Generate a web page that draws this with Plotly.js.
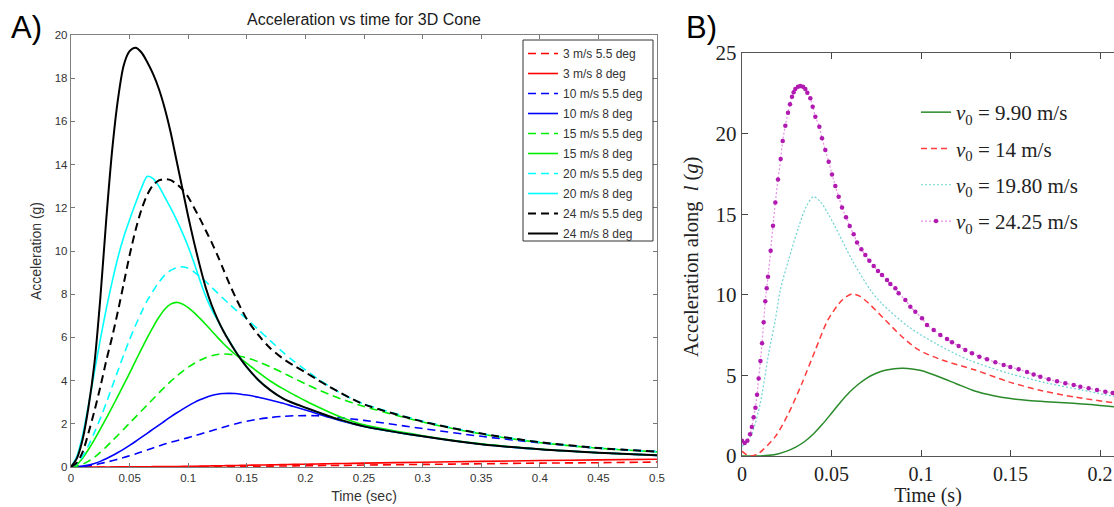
<!DOCTYPE html>
<html>
<head>
<meta charset="utf-8">
<script src="https://cdn.plot.ly/plotly-3.0.1.min.js"></script>
<style>html,body{margin:0;padding:0;background:#fff;}#chart{width:1114px;height:507px;}</style>
</head>
<body>
<div id="chart"></div>
<script>
// ---------- Panel A: Acceleration vs time for 3D Cone ----------
const tA = [0,0.005,0.01,0.015,0.02,0.025,0.03,0.035,0.04,0.045,0.05,0.055,0.06,0.065,0.07,0.075,0.08,0.085,0.09,0.095,0.1,0.105,0.11,0.115,0.12,0.125,0.13,0.135,0.14,0.145,0.15,0.16,0.17,0.18,0.19,0.2,0.21,0.22,0.23,0.24,0.25,0.3,0.35,0.4,0.45,0.5];
const a3_55  = [0,0,0,0,0,0,0,0,0,0, 0.003,0.004,0.005,0.006,0.007,0.008,0.009,0.01,0.011,0.012, 0.013,0.015,0.016,0.018,0.019,0.021,0.022,0.024,0.026,0.028, 0.03,0.035,0.04,0.045,0.05,0.06,0.065,0.07,0.075,0.08, 0.09,0.12,0.15,0.18,0.2,0.23];
const a3_8   = [0,0,0,0,0,0.001,0.002,0.003,0.004,0.006, 0.008,0.01,0.012,0.014,0.016,0.018,0.02,0.022,0.025,0.028, 0.03,0.035,0.04,0.045,0.05,0.055,0.06,0.065,0.07,0.075, 0.08,0.09,0.1,0.11,0.12,0.13,0.14,0.15,0.16,0.17, 0.18,0.22,0.26,0.3,0.33,0.36];
const a10_55 = [0,0.01,0.03,0.06,0.1,0.16,0.22,0.29,0.36,0.44, 0.52,0.6,0.7,0.79,0.88,0.97,1.06,1.14,1.22,1.29, 1.36,1.44,1.52,1.6,1.68,1.76,1.84,1.92,1.99,2.06, 2.12,2.22,2.29,2.34,2.37,2.38,2.37,2.33,2.28,2.22, 2.16,1.78,1.42,1.12,0.87,0.72];
const a10_8  = [0,0.01,0.04,0.09,0.16,0.26,0.38,0.52,0.67,0.83, 1.0,1.18,1.37,1.56,1.75,1.94,2.13,2.32,2.5,2.67, 2.83,2.98,3.11,3.22,3.31,3.37,3.4,3.41,3.4,3.37, 3.33,3.23,3.1,2.96,2.8,2.64,2.47,2.3,2.14,2.0, 1.88,1.42,1.05,0.82,0.66,0.54];
const a15_55 = [0,0.04,0.13,0.27,0.45,0.68,0.93,1.2,1.47,1.75, 2.03,2.31,2.59,2.87,3.15,3.43,3.7,3.96,4.2,4.42, 4.62,4.79,4.94,5.06,5.15,5.21,5.23,5.22,5.18,5.12, 5.05,4.87,4.64,4.38,4.11,3.85,3.6,3.37,3.16,2.97, 2.8,2.08,1.53,1.13,0.87,0.7];
const a15_8  = [0,0.12,0.42,0.82,1.27,1.75,2.25,2.76,3.28,3.81, 4.35,4.9,5.45,5.98,6.48,6.93,7.3,7.54,7.62,7.55, 7.38,7.15,6.88,6.6,6.3,6.0,5.72,5.46,5.22,5.0, 4.8,4.38,3.98,3.65,3.35,3.07,2.8,2.55,2.32,2.12, 1.95,1.45,1.07,0.83,0.66,0.55];
const a20_55 = [0,0.15,0.5,1.0,1.6,2.25,2.95,3.7,4.45,5.2, 5.9,6.55,7.15,7.7,8.15,8.55,8.88,9.1,9.23,9.27, 9.2,9.03,8.82,8.58,8.32,8.06,7.8,7.55,7.3,7.08, 6.85,6.35,5.85,5.35,4.9,4.5,4.1,3.75,3.42,3.15, 2.92,2.12,1.55,1.15,0.88,0.71];
const a20_8  = [0,0.5,1.5,2.9,4.4,5.9,7.3,8.55,9.7,10.65, 11.45,12.2,12.9,13.45,13.35,13.0,12.5,12.0,11.45,10.85, 10.2,9.45,8.65,7.9,7.3,6.8,6.3,5.85,5.4,5.0, 4.62,4.02,3.56,3.2,2.95,2.75,2.55,2.35,2.18,2.02, 1.88,1.42,1.05,0.82,0.66,0.54];
const a24_55 = [0,0.2,0.7,1.6,2.6,3.7,4.9,6.0,7.2,8.5, 9.8,10.95,11.9,12.6,13.05,13.27,13.33,13.28,13.1,12.85, 12.5,12.0,11.5,10.95,10.4,9.8,9.15,8.5,7.9,7.35, 6.85,6.1,5.5,5.05,4.7,4.38,4.05,3.73,3.43,3.15, 2.9,2.1,1.55,1.15,0.88,0.71];
const a24_8  = [0,0.4,1.3,2.8,4.8,7.8,11.4,14.6,17.0,18.6, 19.25,19.41,19.2,18.75,18.2,17.5,16.6,15.5,14.2,12.9, 11.6,10.4,9.3,8.3,7.5,6.85,6.3,5.82,5.38,4.98, 4.62,4.02,3.56,3.2,2.95,2.75,2.55,2.35,2.18,2.02, 1.88,1.42,1.05,0.82,0.66,0.54];
const namesA = ["3 m/s 5.5 deg","3 m/s 8 deg","10 m/s 5.5 deg","10 m/s 8 deg","15 m/s 5.5 deg","15 m/s 8 deg","20 m/s 5.5 deg","20 m/s 8 deg","24 m/s 5.5 deg","24 m/s 8 deg"];
const ticksAx = [0,0.05,0.1,0.15,0.2,0.25,0.3,0.35,0.4,0.45,0.5];
const ticksAy = [0,2,4,6,8,10,12,14,16,18,20];

// ---------- Panel B: acceleration along l ----------
const bGreenT = [0,0.01,0.015,0.02,0.025,0.03,0.035,0.04,0.045,0.05,0.055,0.06,0.065,0.07,0.075,0.08,0.085,0.09,0.095,0.1,0.11,0.12,0.13,0.14,0.15,0.16,0.17,0.18,0.19,0.2,0.2078];
const bGreenA = [0,0,0.04,0.13,0.3,0.55,0.9,1.38,1.98,2.65,3.33,3.95,4.45,4.85,5.13,5.32,5.42,5.44,5.4,5.3,4.92,4.47,4.03,3.75,3.56,3.45,3.37,3.3,3.23,3.14,3.06];
const bRedT = [0,0.0025,0.0047,0.0093,0.0186,0.026,0.0335,0.041,0.048,0.056,0.0615,0.066,0.0708,0.08,0.0894,0.0987,0.1117,0.1304,0.149,0.1676,0.1862,0.2078];
const bRedA = [0.3,0.08,0,0.17,1.2,2.65,4.51,6.58,8.44,9.68,10.05,9.9,9.47,8.44,7.4,6.58,5.96,5.33,4.6,4.05,3.65,3.3];
const bCyanT = [0,0.0019,0.0056,0.0102,0.0149,0.0186,0.0214,0.026,0.0317,0.036,0.04,0.044,0.048,0.052,0.0615,0.0717,0.078,0.093,0.108,0.1266,0.149,0.171,0.19,0.2078];
const bCyanA = [0.6,0.79,1.41,3.27,6.37,8.44,10.3,12.16,14.23,15.5,16.09,15.75,15.05,14.23,12.16,10.3,9.47,8.02,6.99,5.96,5.13,4.51,4.09,3.7];
const bMagT = [0,0.0015,0.003,0.0045,0.0055,0.0065,0.0075,0.0084,0.0093,0.0103,0.0112,0.0121,0.013,0.0138,0.01453,0.01601,0.01732,0.01862,0.02011,0.0216,0.02272,0.02421,0.0257,0.02682,0.02793,0.02886,0.0298,0.03128,0.03259,0.03408,0.03538,0.0365,0.03817,0.03948,0.04097,0.0432,0.04469,0.04655,0.04842,0.05028,0.05214,0.054,0.05587,0.0581,0.06015,0.06238,0.06425,0.06667,0.0689,0.07114,0.07356,0.07598,0.07821,0.08101,0.08287,0.08566,0.08752,0.09125,0.09404,0.09683,0.10056,0.10335,0.10708,0.1108,0.11453,0.11732,0.12104,0.12477,0.12849,0.13259,0.13687,0.14153,0.14618,0.14991,0.15456,0.15922,0.16294,0.16667,0.17132,0.17598,0.18063,0.18529,0.18901,0.19367,0.19832,0.20298,0.20708];
const bMagA = [0.95,0.8,0.95,1.35,1.8,2.4,3.0,3.8,4.8,5.9,7.0,8.3,9.6,10.4,11.12,12.74,14.29,15.72,17.16,18.42,19.54,20.49,21.3,21.82,22.29,22.56,22.77,22.91,22.95,22.91,22.77,22.54,22.19,21.67,21.05,20.43,19.71,18.98,18.26,17.47,16.75,16.09,15.41,14.81,14.27,13.75,13.25,12.82,12.47,12.12,11.79,11.48,11.23,10.92,10.67,10.4,10.09,9.68,9.26,8.95,8.54,8.13,7.82,7.51,7.26,7.05,6.82,6.58,6.37,6.16,6.0,5.81,5.65,5.52,5.38,5.21,5.05,4.92,4.76,4.63,4.51,4.4,4.3,4.2,4.09,3.99,3.91];
const namesB = ["<i>v</i><sub>0</sub> = 9.90 m/s","<i>v</i><sub>0</sub> = 14 m/s","<i>v</i><sub>0</sub> = 19.80 m/s","<i>v</i><sub>0</sub> = 24.25 m/s"];
const ticksBx = [0,0.05,0.1,0.15,0.2];
const ticksBy = [0,5,10,15,20,25];

const seriesA = [a3_55,a3_8,a10_55,a10_8,a15_55,a15_8,a20_55,a20_8,a24_55,a24_8];
const colorsA = ["#ff0000","#ff0000","#0000ff","#0000ff","#00ee00","#00ee00","#00ffff","#00ffff","#000000","#000000"];

const traces = [];
seriesA.forEach((s,i)=>{
  const dashed = (i%2===0);
  traces.push({
    type:"scatter", mode:"lines", x:tA, y:s, name:namesA[i],
    xaxis:"x", yaxis:"y", legend:"legend", legendgroup:"g"+i,
    line:{color:colorsA[i], width:(i>=8?2:1.6), dash:dashed?"8px,5px":"solid", shape:"spline", smoothing:0.8},
    hoverinfo:"skip"
  });
});

traces.push({type:"scatter",mode:"lines",x:bGreenT,y:bGreenA,name:namesB[0],xaxis:"x2",yaxis:"y2",legend:"legend2",legendgroup:"b0",
  line:{color:"#2a8a2a",width:1.5,shape:"spline",smoothing:0.8},hoverinfo:"skip"});
traces.push({type:"scatter",mode:"lines",x:bRedT,y:bRedA,name:namesB[1],xaxis:"x2",yaxis:"y2",legend:"legend2",legendgroup:"b1",
  line:{color:"#ff3c3c",width:1.5,dash:"6px,4px",shape:"spline",smoothing:0.8},hoverinfo:"skip"});
traces.push({type:"scatter",mode:"lines",x:bCyanT,y:bCyanA,name:namesB[2],xaxis:"x2",yaxis:"y2",legend:"legend2",legendgroup:"b2",
  line:{color:"#6fd3d3",width:1.2,dash:"2px,2px",shape:"spline",smoothing:0.8},hoverinfo:"skip"});
traces.push({type:"scatter",mode:"lines+markers",x:bMagT,y:bMagA,name:namesB[3],xaxis:"x2",yaxis:"y2",legend:"legend2",legendgroup:"b3",
  line:{color:"#e690e6",width:1.2,dash:"2px,2px",shape:"spline",smoothing:0.6},
  marker:{color:"#b11ab1",size:4.5,line:{width:0}},hoverinfo:"skip"});

const W=1114,H=507;
const px = v=>v/W, py = v=>(H-v)/H;
const fA = "Liberation Sans, Arial, sans-serif";
const fB = "Liberation Serif, Times New Roman, serif";

const layout = {
  width:W, height:H, margin:{l:0,r:0,t:0,b:0},
  paper_bgcolor:"#fff", plot_bgcolor:"#fff", showlegend:true,
  title:{text:"Acceleration vs time for 3D Cone", x:px(364), xanchor:"center", y:py(19), yanchor:"middle",
         font:{family:fA,size:16,color:"#1a1a1a"}},
  xaxis:{domain:[px(71),px(657)], range:[0,0.5], anchor:"y", tickvals:ticksAx, ticktext:ticksAx.map(String),
         ticks:"inside", ticklen:4, tickcolor:"#777", showline:true, linecolor:"#808080", linewidth:1.2, mirror:"ticks",
         showgrid:false, zeroline:false, tickfont:{family:fA,size:11.5,color:"#333"},
         title:{text:"Time (sec)", font:{family:fA,size:14,color:"#333"}, standoff:8}},
  yaxis:{domain:[py(467),py(35)], range:[0,20], anchor:"x", tickvals:ticksAy, ticktext:ticksAy.map(String),
         ticks:"inside", ticklen:4, tickcolor:"#777", showline:true, linecolor:"#808080", linewidth:1.2, mirror:"ticks",
         showgrid:false, zeroline:false, tickfont:{family:fA,size:11.5,color:"#333"},
         title:{text:"Acceleration (g)", font:{family:fA,size:14,color:"#333"}, standoff:9}},
  xaxis2:{domain:[px(742),1], range:[0,(W-742)/1790], anchor:"y2", tickvals:ticksBx, ticktext:ticksBx.map(String),
         ticks:"inside", ticklen:6, tickcolor:"#444", showline:true, linecolor:"#555", linewidth:1.2, mirror:"ticks",
         showgrid:false, zeroline:false, tickfont:{family:fB,size:20,color:"#222"},
         title:{text:"Time (s)", font:{family:fB,size:20,color:"#222"}, standoff:7}},
  yaxis2:{domain:[py(456),py(53)], range:[0,25], anchor:"x2", tickvals:ticksBy, ticktext:ticksBy.map(String),
         ticks:"inside", ticklen:6, tickcolor:"#444", showline:true, linecolor:"#555", linewidth:1.2, mirror:false,
         showgrid:false, zeroline:false, tickfont:{family:fB,size:21,color:"#222"}},
  legend:{x:px(523), y:py(39), xanchor:"left", yanchor:"top", bgcolor:"rgba(0,0,0,0)", borderwidth:0,
          font:{family:fA,size:12,color:"#333"}, itemwidth:30, tracegroupgap:1, traceorder:"grouped"},
  legend2:{x:px(916), y:py(92), xanchor:"left", yanchor:"top", bgcolor:"rgba(0,0,0,0)", borderwidth:0,
          font:{family:fB,size:21,color:"#222"}, itemwidth:30, tracegroupgap:6, traceorder:"grouped"},
  shapes:[
    {type:"rect", xref:"paper", yref:"paper", x0:px(523), x1:px(653), y0:py(241), y1:py(40),
     line:{color:"#333", width:1}, fillcolor:"#fff", layer:"above"}
  ],
  annotations:[
    {text:"A)", xref:"paper", yref:"paper", x:px(27), y:py(28), xanchor:"center", yanchor:"middle", showarrow:false,
     font:{family:fA,size:31,color:"#000"}},
    {text:"B)", xref:"paper", yref:"paper", x:px(701), y:py(28), xanchor:"center", yanchor:"middle", showarrow:false,
     font:{family:fA,size:31,color:"#000"}},
    {text:"Acceleration along  <i>l</i> (<i>g</i>)", xref:"paper", yref:"paper", x:px(692), y:py(257), xanchor:"center", yanchor:"middle",
     textangle:-90, showarrow:false, font:{family:fB,size:20.5,color:"#222"}}
  ]
};

Plotly.newPlot("chart", traces, layout, {staticPlot:true, displayModeBar:false});
</script>
</body>
</html>
